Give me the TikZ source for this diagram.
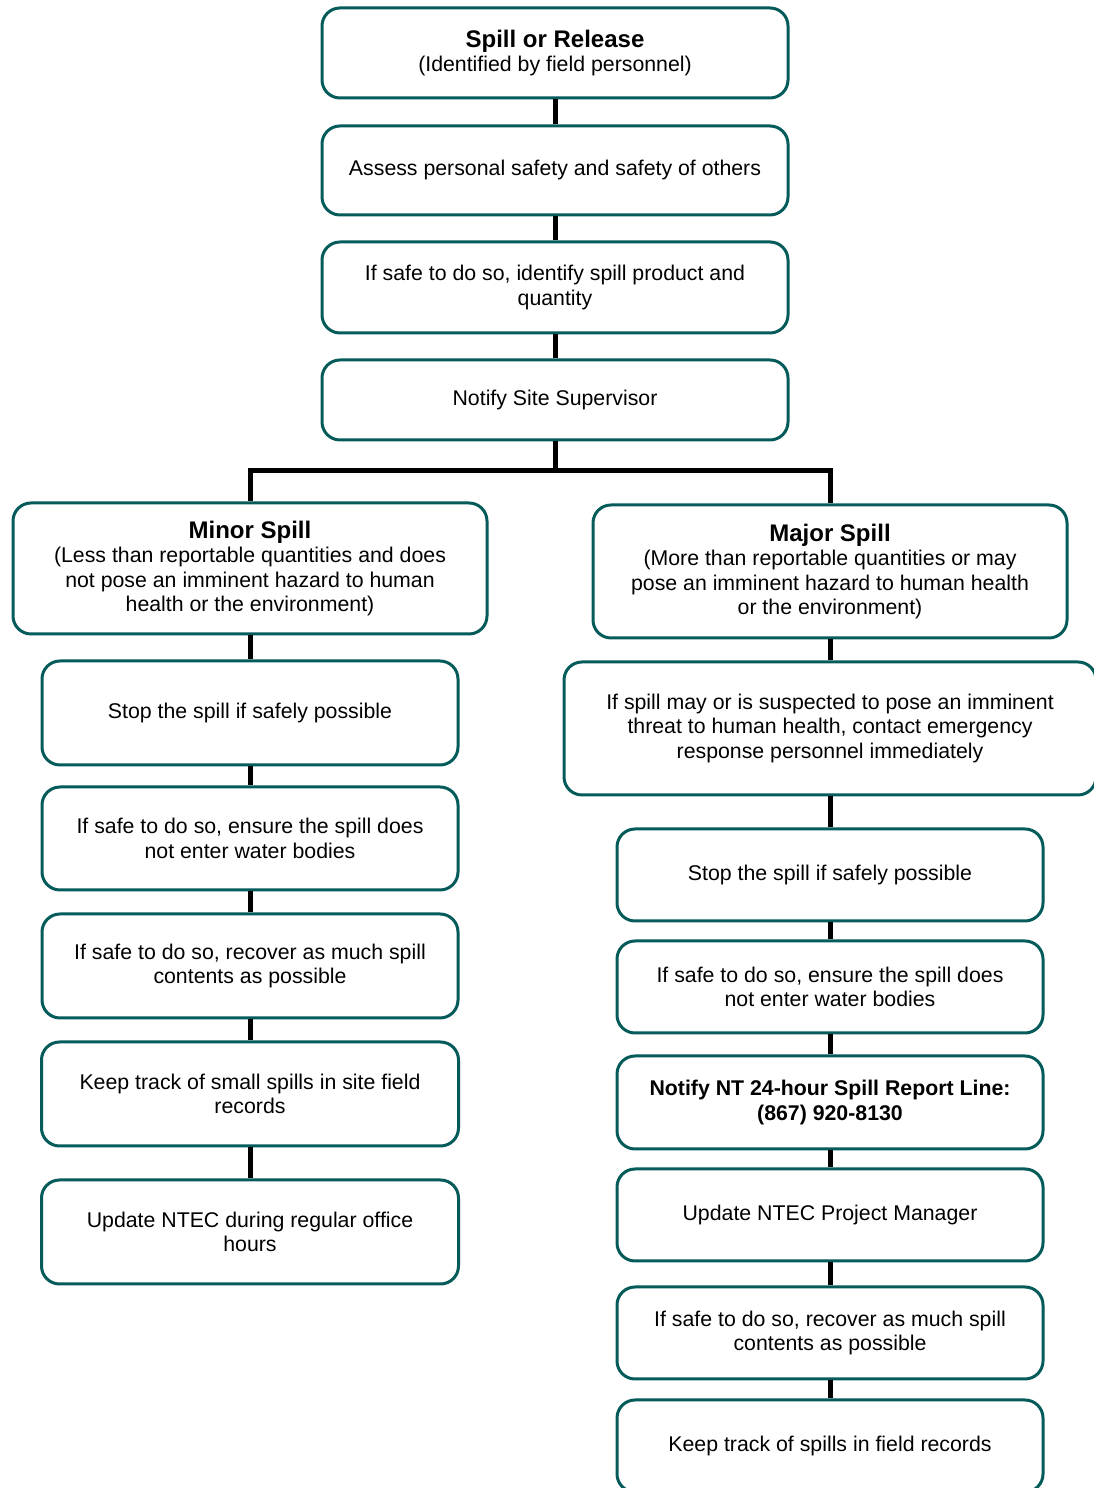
\documentclass[tikz,border=0pt]{standalone}
\usepackage{fontspec}
\setmainfont{Liberation Sans}
\usetikzlibrary{positioning}
\definecolor{spillteal}{RGB}{5,90,90}
\newcommand{\heading}[1]{{\fontsize{24}{26}\selectfont\textbf{#1}}}

\begin{document}
\begin{tikzpicture}[auto, x=1pt, y=1pt, node distance=120pt, font=\fontsize{21.3}{24.5}\selectfont]
        \tikzstyle{block} = [draw=spillteal, line width=3pt, fill=white, rectangle, rounded corners=18pt, align=center, minimum width=466pt, minimum height=92pt]
        \tikzstyle{link} = [line width=5pt]

        \useasboundingbox (0,0) rectangle (1094,1488);

        % main column
        \node [block, minimum height=90pt] (spill) at (555,1435) {\heading{Spill or Release}\\(Identified by field personnel)};
        \node [block, below of=spill, node distance=117.5pt, minimum height=89pt] (assess) {Assess personal safety and safety of others};
        \node [block, below of=assess, node distance=117pt, minimum height=91pt] (identify) {If safe to do so, identify spill product and\\quantity};
        \node [block, below of=identify, node distance=112.5pt, minimum height=80pt] (supervisor) {Notify Site Supervisor};

        % minor spill
        \node [block, minimum width=474pt, minimum height=131pt] (minor) at (250,919.5) {\heading{Minor Spill}\\(Less than reportable quantities and does\\not pose an imminent hazard to human\\health or the environment)};
        \node [block, below of=minor, node distance=144.5pt, minimum width=416pt, minimum height=104pt] (stopminor) {Stop the spill if safely possible};
        \node [block, below of=stopminor, node distance=125.5pt, minimum width=416pt, minimum height=103pt] (waterminor) {If safe to do so, ensure the spill does\\not enter water bodies};
        \node [block, below of=waterminor, node distance=127.5pt, minimum width=416pt, minimum height=104pt] (recoverminor) {If safe to do so, recover as much spill\\contents as possible};
        \node [block, below of=recoverminor, node distance=128pt, minimum width=417pt, minimum height=104pt] (trackminor) {Keep track of small spills in site field\\records};
        \node [block, below of=trackminor, node distance=138pt, minimum width=417pt, minimum height=104pt] (updateminor) {Update NTEC during regular office\\hours};

        % major spill
        \node [block, minimum width=474pt, minimum height=133pt] (major) at (830,916.5) {\heading{Major Spill}\\(More than reportable quantities or may\\pose an imminent hazard to human health\\or the environment)};
        \node [block, below of=major, node distance=157pt, minimum width=532pt, minimum height=133pt] (threat) {If spill may or is suspected to pose an imminent\\threat to human health, contact emergency\\response personnel immediately};
        \node [block, below of=threat, node distance=146.5pt, minimum width=426pt] (stopmajor) {Stop the spill if safely possible};
        \node [block, below of=stopmajor, node distance=112pt, minimum width=426pt] (watermajor) {If safe to do so, ensure the spill does\\not enter water bodies};
        \node [block, below of=watermajor, node distance=115.5pt, minimum width=426pt, minimum height=93pt] (reportline) {\textbf{Notify NT 24-hour Spill Report Line:}\\\textbf{(867) 920-8130}};
        \node [block, below of=reportline, node distance=112.5pt, minimum width=426pt] (manager) {Update NTEC Project Manager};
        \node [block, below of=manager, node distance=118pt, minimum width=426pt] (recovermajor) {If safe to do so, recover as much spill\\contents as possible};
        \node [block, below of=recovermajor, node distance=113pt, minimum width=426pt] (trackmajor) {Keep track of spills in field records};

        \draw [link] (spill) -- (assess);
        \draw [link] (assess) -- (identify);
        \draw [link] (identify) -- (supervisor);
        \draw [link] (supervisor.south) -- ++(0,-29) coordinate (split) -| (minor.north);
        \draw [link] (split) -| (major.north);

        \draw [link] (minor) -- (stopminor);
        \draw [link] (stopminor) -- (waterminor);
        \draw [link] (waterminor) -- (recoverminor);
        \draw [link] (recoverminor) -- (trackminor);
        \draw [link] (trackminor) -- (updateminor);

        \draw [link] (major) -- (threat);
        \draw [link] (threat) -- (stopmajor);
        \draw [link] (stopmajor) -- (watermajor);
        \draw [link] (watermajor) -- (reportline);
        \draw [link] (reportline) -- (manager);
        \draw [link] (manager) -- (recovermajor);
        \draw [link] (recovermajor) -- (trackmajor);
    \end{tikzpicture}
\end{document}
